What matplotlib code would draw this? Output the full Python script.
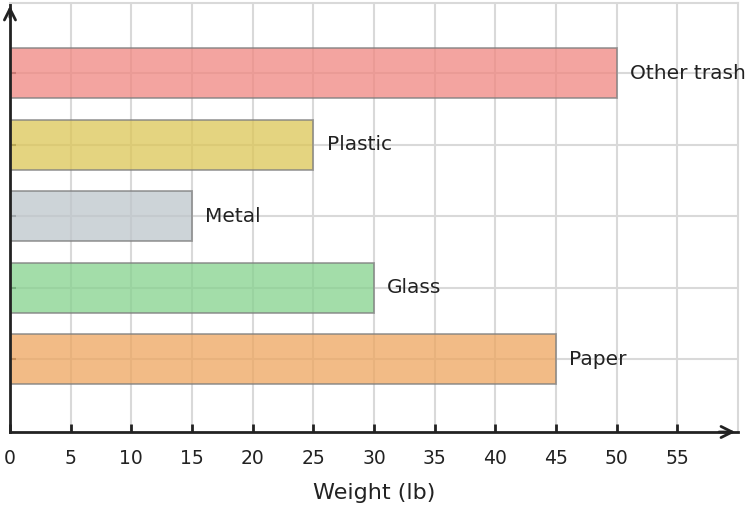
import matplotlib.pyplot as plt

categories = ["Paper", "Glass", "Metal", "Plastic", "Other trash"]
weights = [45, 30, 15, 25, 50]
colors = ["#eea55e", "#85d28d", "#bdc6cb", "#dcc655", "#f08680"]

fig = plt.figure(figsize=(7.55, 5.08), dpi=100)
ax = fig.add_axes([0.0132, 0.1496, 0.9643, 0.8445])

ypos = list(range(len(categories)))
ax.barh(ypos, weights, height=0.7, color=colors, alpha=0.75,
        edgecolor="#808080", linewidth=1.3, zorder=2)

for y, w, name in zip(ypos, weights, categories):
    ax.text(w + 1.1, y, name, va="center", ha="left", fontsize=14.5, color="#222222", zorder=4)

ax.set_xlim(0, 60)
ax.set_ylim(-1.02, 4.98)
ax.set_xticks(range(0, 60, 5))
ax.set_yticks(ypos)
ax.set_yticklabels([])
ax.tick_params(axis="x", direction="in", length=6, width=2, colors="#222222",
               labelsize=13.5, pad=12)
ax.tick_params(axis="y", direction="in", length=4, width=1.5, color="#555555")

ax.grid(True, color="#d9d9d9", linewidth=1.5, zorder=0)
ax.set_axisbelow(True)

for s in ["top", "right"]:
    ax.spines[s].set_color("#d9d9d9")
    ax.spines[s].set_linewidth(1.5)
for s in ["left", "bottom"]:
    ax.spines[s].set_color("#222222")
    ax.spines[s].set_linewidth(2)

# arrow heads on the axes
ax.annotate("", xy=(1.0, 0), xytext=(0.97, 0), xycoords="axes fraction",
            arrowprops=dict(arrowstyle="->", color="#222222", lw=2, mutation_scale=20))
ax.annotate("", xy=(0, 1.0), xytext=(0, 0.96), xycoords="axes fraction",
            arrowprops=dict(arrowstyle="->", color="#222222", lw=2, mutation_scale=20))

ax.set_xlabel("Weight (lb)", fontsize=16, color="#222222", labelpad=11)

fig.savefig("out.png", dpi=100)
